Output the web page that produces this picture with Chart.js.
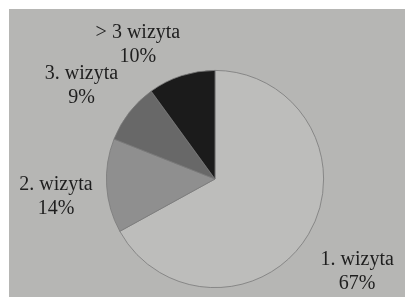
<!DOCTYPE html>
<html>
<head>
<meta charset="utf-8">
<script src="https://cdn.jsdelivr.net/npm/chart.js@4/dist/chart.umd.min.js"></script>
<style>
    html, body { margin: 0; padding: 0; background: #ffffff; }
    #frame {
        position: absolute;
        left: 9px;
        top: 9px;
        width: 396px;
        height: 288px;
        background: #b6b6b4;
    }
</style>
</head>
<body>
<div id="frame"><canvas id="pieChart" width="396" height="288"></canvas></div>
<script>
// Chart data
const labels = ['1. wizyta', '2. wizyta', '3. wizyta', '> 3 wizyta'];
const values = [67, 14, 9, 10];
const sliceColors = ['#bdbdbb', '#8f8f8f', '#686868', '#1b1b1b'];

// Draws "name / percent" outside each slice, pushed off the rim along the mid angle
const outsideLabels = {
    id: 'outsideLabels',
    afterDatasetsDraw(chart) {
        const ctx = chart.ctx;
        const meta = chart.getDatasetMeta(0);
        const total = values.reduce((a, b) => a + b, 0);
        ctx.save();
        ctx.font = '20px "Liberation Serif", "DejaVu Serif", serif';
        ctx.fillStyle = '#1e1e1e';
        ctx.textAlign = 'center';
        ctx.textBaseline = 'middle';
        const lineH = 24;
        meta.data.forEach((arc, i) => {
            const mid = (arc.startAngle + arc.endAngle) / 2;
            const ux = Math.cos(mid);
            const uy = Math.sin(mid);
            const pct = Math.round(values[i] / total * 100) + '%';
            const w = Math.max(ctx.measureText(labels[i]).width, ctx.measureText(pct).width);
            const h = lineH * 2;
            const d = arc.outerRadius + 14;
            const kx = Math.max(-1, Math.min(1, ux * 3));
            const ky = Math.max(-1, Math.min(1, uy * 3));
            const cx = arc.x + ux * d + kx * w / 2;
            const cy = arc.y + uy * d + ky * h / 2 + 6;
            ctx.fillText(labels[i], cx, cy - lineH / 2);
            ctx.fillText(pct, cx, cy + lineH / 2);
        });
        ctx.restore();
    }
};

const ctx = document.getElementById('pieChart').getContext('2d');
new Chart(ctx, {
    type: 'pie',
    data: {
        labels: labels,
        datasets: [{
            data: values,
            backgroundColor: sliceColors,
            borderColor: '#7a7a7a',
            borderWidth: 0.8
        }]
    },
    options: {
        responsive: false,
        animation: false,
        layout: {
            padding: { left: 97, right: 81, top: 61, bottom: 9 }
        },
        plugins: {
            legend: { display: false },
            tooltip: { enabled: false }
        }
    },
    plugins: [outsideLabels]
});
</script>
</body>
</html>
